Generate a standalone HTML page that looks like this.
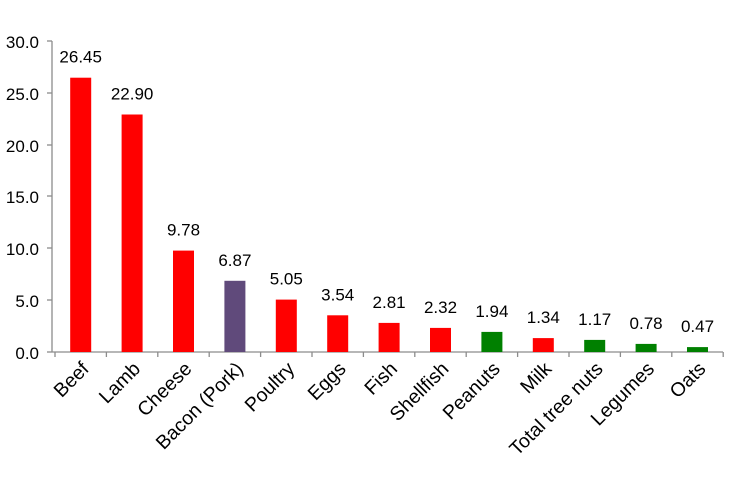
<!DOCTYPE html>
<html><head><meta charset="utf-8"><style>
body{margin:0;background:#fff}
text{font-family:"Liberation Sans",sans-serif;fill:#000}
</style></head><body>
<svg width="748" height="476" xmlns="http://www.w3.org/2000/svg">
<g stroke="#8c8c8c" stroke-width="1.3">
<line x1="52" y1="41" x2="52" y2="352"/>
<line x1="52" y1="352" x2="723" y2="352"/>
<line x1="47" y1="41" x2="52" y2="41"/>
<line x1="47" y1="93" x2="52" y2="93"/>
<line x1="47" y1="145" x2="52" y2="145"/>
<line x1="47" y1="196" x2="52" y2="196"/>
<line x1="47" y1="248" x2="52" y2="248"/>
<line x1="47" y1="300" x2="52" y2="300"/>
<line x1="47" y1="352" x2="52" y2="352"/>
<line x1="55" y1="352" x2="55" y2="357"/>
<line x1="106.4" y1="352" x2="106.4" y2="357"/>
<line x1="157.8" y1="352" x2="157.8" y2="357"/>
<line x1="209.2" y1="352" x2="209.2" y2="357"/>
<line x1="260.6" y1="352" x2="260.6" y2="357"/>
<line x1="312" y1="352" x2="312" y2="357"/>
<line x1="363.4" y1="352" x2="363.4" y2="357"/>
<line x1="414.8" y1="352" x2="414.8" y2="357"/>
<line x1="466.2" y1="352" x2="466.2" y2="357"/>
<line x1="517.6" y1="352" x2="517.6" y2="357"/>
<line x1="569" y1="352" x2="569" y2="357"/>
<line x1="620.4" y1="352" x2="620.4" y2="357"/>
<line x1="671.8" y1="352" x2="671.8" y2="357"/>
<line x1="723.2" y1="352" x2="723.2" y2="357"/>
</g>
<g font-size="17" text-anchor="end">
<text x="39" y="48">30.0</text>
<text x="39" y="100">25.0</text>
<text x="39" y="152">20.0</text>
<text x="39" y="203">15.0</text>
<text x="39" y="255">10.0</text>
<text x="39" y="307">5.0</text>
<text x="39" y="359">0.0</text>
</g>
<g>
<rect x="70.2" y="77.7" width="21" height="274.3" fill="#ff0000"/>
<rect x="121.6" y="114.5" width="21" height="237.5" fill="#ff0000"/>
<rect x="173" y="250.6" width="21" height="101.4" fill="#ff0000"/>
<rect x="224.4" y="280.8" width="21" height="71.2" fill="#604a7b"/>
<rect x="275.8" y="299.6" width="21" height="52.4" fill="#ff0000"/>
<rect x="327.2" y="315.3" width="21" height="36.7" fill="#ff0000"/>
<rect x="378.6" y="322.9" width="21" height="29.1" fill="#ff0000"/>
<rect x="430" y="327.9" width="21" height="24.1" fill="#ff0000"/>
<rect x="481.4" y="331.9" width="21" height="20.1" fill="#008000"/>
<rect x="532.8" y="338.1" width="21" height="13.9" fill="#ff0000"/>
<rect x="584.2" y="339.9" width="21" height="12.1" fill="#008000"/>
<rect x="635.6" y="343.9" width="21" height="8.1" fill="#008000"/>
<rect x="687" y="347.1" width="21" height="4.9" fill="#008000"/>
</g>
<g font-size="17" text-anchor="middle">
<text x="80.7" y="62.7">26.45</text>
<text x="132.1" y="99.5">22.90</text>
<text x="183.5" y="235.6">9.78</text>
<text x="234.9" y="265.8">6.87</text>
<text x="286.3" y="284.6">5.05</text>
<text x="337.7" y="300.3">3.54</text>
<text x="389.1" y="307.9">2.81</text>
<text x="440.5" y="312.9">2.32</text>
<text x="491.9" y="316.9">1.94</text>
<text x="543.3" y="323.1">1.34</text>
<text x="594.7" y="324.9">1.17</text>
<text x="646.1" y="328.9">0.78</text>
<text x="697.5" y="332.1">0.47</text>
</g>
<g font-size="19.5" text-anchor="end">
<text transform="translate(90,370) rotate(-45)">Beef</text>
<text transform="translate(141.4,370) rotate(-45)">Lamb</text>
<text transform="translate(192.8,370) rotate(-45)">Cheese</text>
<text transform="translate(244.2,370) rotate(-45)">Bacon (Pork)</text>
<text transform="translate(295.6,370) rotate(-45)">Poultry</text>
<text transform="translate(347,370) rotate(-45)">Eggs</text>
<text transform="translate(398.4,370) rotate(-45)">Fish</text>
<text transform="translate(449.8,370) rotate(-45)">Shellfish</text>
<text transform="translate(501.2,370) rotate(-45)">Peanuts</text>
<text transform="translate(552.6,370) rotate(-45)">Milk</text>
<text transform="translate(604,370) rotate(-45)">Total tree nuts</text>
<text transform="translate(655.4,370) rotate(-45)">Legumes</text>
<text transform="translate(706.8,370) rotate(-45)">Oats</text>
</g>
</svg>
</body></html>
